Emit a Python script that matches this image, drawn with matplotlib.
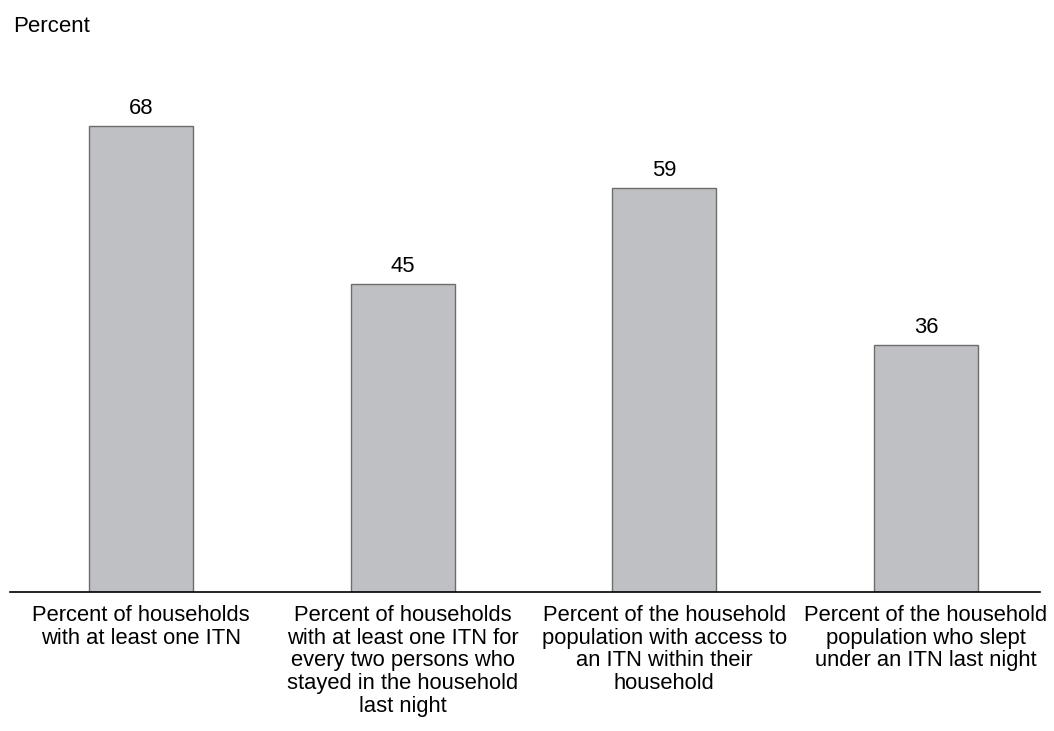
import matplotlib
matplotlib.use("Agg")
import matplotlib.pyplot as plt

plt.rcParams['font.family'] = ['Liberation Sans', 'DejaVu Sans']

# === Data ===
categories = [
    "Percent of households\nwith at least one ITN",
    "Percent of households\nwith at least one ITN for\nevery two persons who\nstayed in the household\nlast night",
    "Percent of the household\npopulation with access to\nan ITN within their\nhousehold",
    "Percent of the household\npopulation who slept\nunder an ITN last night",
]
values = [68, 45, 59, 36]

# === Figure ===
fig = plt.figure(figsize=(10.54, 7.31), dpi=100)
ax = fig.add_axes([10 / 1054, 139 / 731, 1030 / 1054, 514 / 731])

x = list(range(len(values)))
bars = ax.bar(x, values, width=0.397, color="#bfc0c4", edgecolor="#6d6d6d", linewidth=1.0)

for b, v in zip(bars, values):
    ax.annotate(str(v), (b.get_x() + b.get_width() / 2, v), xytext=(0, 5),
                textcoords="offset points", ha="center", va="bottom", fontsize=15.8)

ax.set_xlim(-0.5006, 3.4356)
ax.set_ylim(0, 75)
ax.set_xticks(x)
ax.set_xticklabels(categories, fontsize=15.8, linespacing=1.1)
ax.tick_params(axis="x", length=0, pad=9.5)
ax.set_yticks([])
for s in ["top", "right", "left"]:
    ax.spines[s].set_visible(False)
ax.spines["bottom"].set_linewidth(1.2)

fig.text(13 / 1054, 1 - 26 / 731, "Percent", fontsize=16, va="center", ha="left")

fig.savefig("out.png", dpi=100)
